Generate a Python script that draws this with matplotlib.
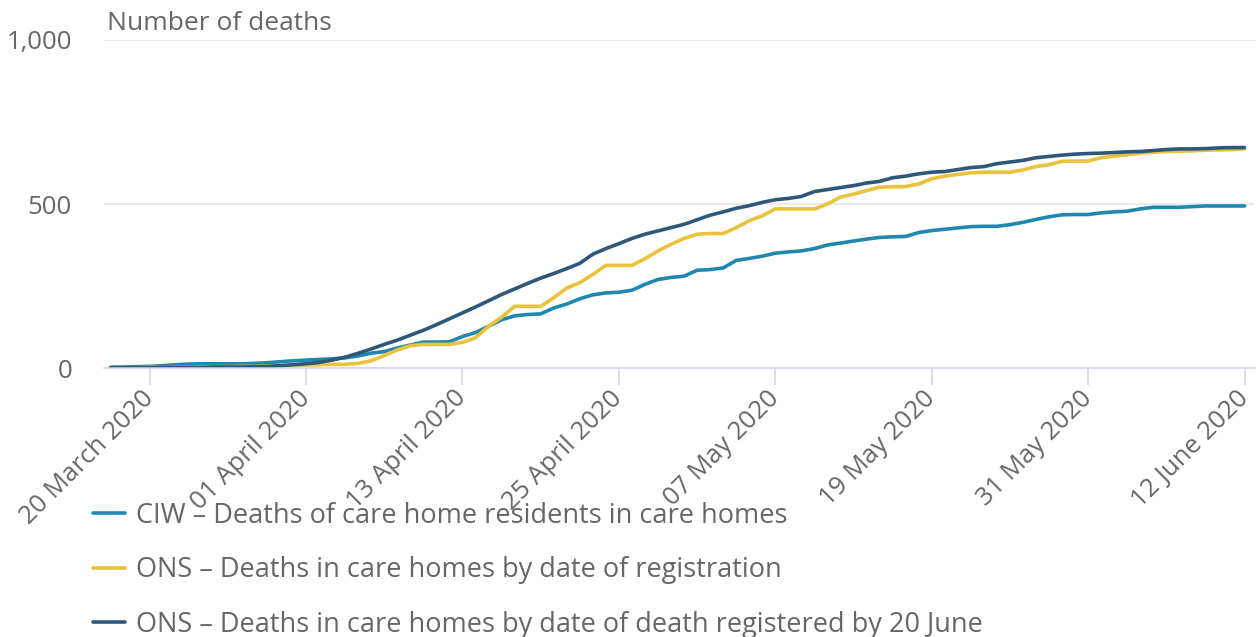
import matplotlib
matplotlib.use("Agg")
import matplotlib.pyplot as plt
import pandas as pd

plt.rcParams['font.family'] = ['Open Sans', 'DejaVu Sans']

start_date = "2020-03-17"
n_days = 88

ciw = [2, 3, 4, 5, 7, 10, 12, 13, 13, 13, 13, 14, 16, 19, 22, 24, 26, 28,
       31, 37, 45, 50, 61, 70, 79, 79, 80, 96, 108, 127, 147, 159, 163, 165,
       183, 195, 211, 223, 229, 231, 237, 255, 270, 276, 280, 298, 300, 305,
       328, 334, 341, 350, 354, 357, 364, 375, 381, 387, 393, 398, 400, 401,
       413, 419, 423, 427, 431, 432, 432, 437, 444, 453, 461, 467, 468, 468,
       473, 476, 478, 485, 490, 490, 490, 492, 494, 494, 494, 494]

ons_reg = [1, 1, 1, 2, 2, 3, 3, 4, 4, 4, 5, 5, 6, 7, 8, 9, 10, 11,
           11, 14, 22, 38, 55, 68, 72, 72, 72, 78, 92, 127, 155, 188, 188, 188,
           214, 244, 260, 285, 313, 313, 313, 333, 357, 377, 395, 408, 410, 410,
           428, 449, 464, 485, 485, 485, 485, 500, 521, 530, 541, 551, 553, 553,
           561, 577, 585, 590, 595, 597, 597, 597, 604, 614, 620, 630, 631, 631,
           641, 646, 650, 655, 658, 660, 661, 662, 664, 665, 666, 668]

ons_death = [1, 1, 1, 1, 2, 2, 2, 2, 3, 3, 3, 4, 5, 7, 10, 13, 17, 24,
             33, 45, 58, 72, 85, 100, 115, 132, 150, 168, 186, 205, 224, 241, 258, 274,
             288, 303, 319, 347, 364, 379, 395, 408, 418, 428, 438, 452, 466, 476,
             487, 495, 505, 513, 517, 523, 538, 544, 550, 556, 564, 569, 580, 585,
             592, 597, 599, 605, 611, 614, 623, 628, 633, 641, 645, 649, 652, 654,
             655, 657, 659, 660, 663, 666, 668, 668, 669, 671, 672, 672]

labels = ["CIW \u2013 Deaths of care home residents in care homes",
          "ONS \u2013 Deaths in care homes by date of registration",
          "ONS \u2013 Deaths in care homes by date of death registered by 20 June"]
colors = ["#1f87b0", "#e8c33b", "#2f5779"]

tick_dates = ["2020-03-20", "2020-04-01", "2020-04-13", "2020-04-25",
              "2020-05-07", "2020-05-19", "2020-05-31", "2020-06-12"]
y_ticks = [0, 500, 1000]
y_tick_labels = ["0", "500", "1,000"]

dates = pd.date_range(start_date, periods=n_days)
txt = "#666666"
axis_col = "#ccd6eb"

fig = plt.figure(figsize=(12.57, 6.37), dpi=100)
ax = fig.add_axes([104/1257, 1-368/637, (1255-104)/1257, (368-40)/637])

lines = []
for vals, lab, col in zip([ciw, ons_reg, ons_death], labels, colors):
    ln, = ax.plot(dates, vals, color=col, lw=2.6, label=lab,
                  solid_capstyle='round', solid_joinstyle='round')
    lines.append(ln)

ax.set_ylim(0, 1000)
ax.set_xlim(pd.Timestamp(start_date) - pd.Timedelta(days=0.5),
            pd.Timestamp("2020-06-12") + pd.Timedelta(days=0.8))
ax.set_yticks(y_ticks)
ax.set_yticklabels(y_tick_labels)
ax.yaxis.grid(True, color="#e6e6e6", lw=1.1)
ax.set_axisbelow(True)
for s in ["left", "top", "right"]:
    ax.spines[s].set_visible(False)
ax.spines["bottom"].set_color(axis_col)
ax.spines["bottom"].set_linewidth(1.1)
ax.tick_params(axis='y', length=0, pad=23, labelsize=18.5, labelcolor=txt)

tds = pd.to_datetime(tick_dates)
ax.set_xticks(tds)
ax.set_xticklabels([d.strftime("%d %B %Y") for d in tds])
ax.tick_params(axis='x', length=12, width=1.1, color=axis_col, labelsize=18.5,
               labelcolor=txt, pad=7)
for lab in ax.get_xticklabels():
    lab.set_rotation(45)
    lab.set_ha('right')
    lab.set_va('center')
    lab.set_rotation_mode('anchor')

fig.text(107/1257, 1-23/637, "Number of deaths", fontsize=19, color=txt,
         va='center', ha='left')

leg = fig.legend(handles=lines, loc='upper left',
                 bbox_to_anchor=(82/1257, 1-491/637), frameon=False,
                 fontsize=19.5, labelcolor=txt, handlelength=1.2,
                 handletextpad=0.4, labelspacing=0.98, borderaxespad=0)

fig.savefig("out.png", dpi=100)
